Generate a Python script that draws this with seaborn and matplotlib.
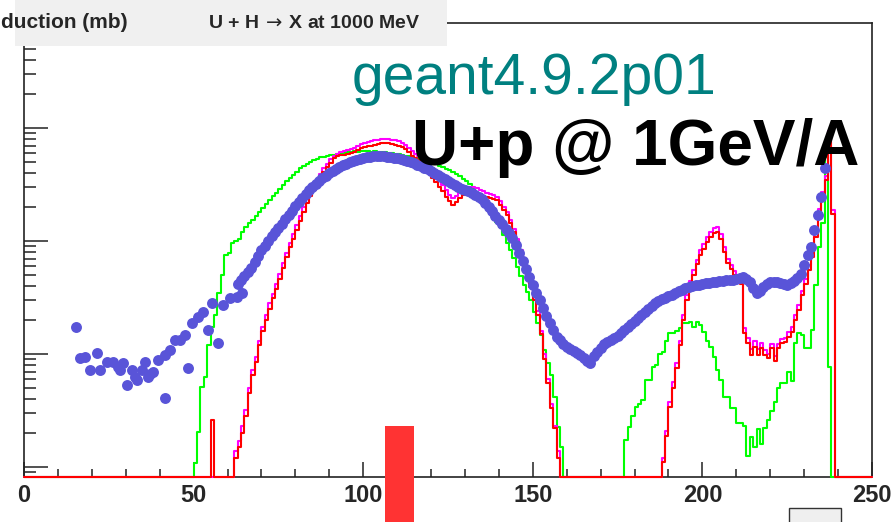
import numpy as np
import matplotlib
matplotlib.use("Agg")
import matplotlib.pyplot as plt
from matplotlib.patches import Rectangle
from matplotlib.ticker import LogLocator, MultipleLocator, NullFormatter
import seaborn as sns

sns.set_style("ticks")
plt.rcParams["font.family"] = ["Liberation Sans", "DejaVu Sans"]
plt.rcParams["mathtext.fontset"] = "dejavusans"

# ---------------------------------------------------------------- data
# Mass-number histograms: unit bins 0..250, values in mb.
N_BINS = 250

GREEN_FISSION_FIRST = 50
green_fission = [
    0.0108, 0.0205, 0.0507, 0.063, 0.120, 0.174, 0.221, 0.344, 0.50, 0.75,
    0.78, 0.97, 1.00, 1.05, 1.21, 1.33, 1.44, 1.53, 1.66, 1.81,
    1.96, 2.13, 2.31, 2.50, 2.66, 2.89, 3.13, 3.40, 3.61, 3.84,
    4.08, 4.43, 4.61, 4.80, 5.00, 5.21, 5.32, 5.54, 5.54, 5.65,
    5.77, 5.77, 5.89, 6.01, 6.01, 6.13, 6.13, 6.26, 6.13, 6.26,
    6.26, 6.26, 6.13, 6.26, 6.13, 6.13, 6.13, 6.01, 6.01, 5.89,
    5.89, 5.77, 5.65, 5.65, 5.54, 5.43, 5.32, 5.21, 5.11, 5.00,
    4.90, 4.80, 4.61, 4.52, 4.34, 4.25, 4.08, 3.92, 3.76, 3.54,
    3.40, 3.19, 2.94, 2.66, 2.40, 2.17, 2.00, 1.81, 1.63, 1.47,
    1.33, 1.13, 0.96, 0.83, 0.707, 0.589, 0.490, 0.408, 0.354, 0.300,
    0.235, 0.188, 0.147, 0.109, 0.0832, 0.0652, 0.0416, 0.0226, 0.0150,
]
GREEN_HEAVY_FIRST = 177
green_heavy = [
    0.0173, 0.0227, 0.028, 0.034, 0.036, 0.039, 0.059, 0.059, 0.077, 0.080,
    0.101, 0.105, 0.130, 0.152, 0.152, 0.160, 0.169, 0.187, 0.190, 0.193,
    0.174, 0.193, 0.180, 0.158, 0.130, 0.116, 0.095, 0.072, 0.059, 0.042,
    0.042, 0.033, 0.033, 0.0244, 0.0244, 0.0230, 0.0125, 0.0185, 0.0150, 0.0215,
    0.0160, 0.0220, 0.026, 0.031, 0.038, 0.050, 0.055, 0.055, 0.070, 0.058,
    0.124, 0.152, 0.147, 0.112, 0.112, 0.163, 0.41, 0.89, 1.43, 5.5,
    0.077,
]

RED_SPIKE_FIRST = 55
red_spike = [0.026]
RED_FISSION_FIRST = 62
red_fission = [
    0.012, 0.015, 0.020, 0.028, 0.045, 0.065, 0.085, 0.12, 0.16, 0.20,
    0.25, 0.31, 0.38, 0.46, 0.58, 0.72, 0.88, 1.05, 1.25, 1.50,
    1.80, 2.15, 2.50, 2.85, 3.20, 3.65, 4.10, 4.50, 4.95, 5.40,
    5.60, 5.75, 5.80, 5.90, 6.00, 6.15, 6.40, 6.60, 6.80, 6.90,
    7.00, 7.10, 7.20, 7.30, 7.35, 7.30, 7.20, 7.10, 6.95, 6.80,
    6.50, 6.10, 5.70, 5.40, 5.20, 4.90, 4.50, 4.00, 3.60, 3.30,
    3.00, 2.75, 2.45, 2.25, 2.08, 2.20, 2.40, 2.55, 2.66, 2.70,
    2.70, 2.66, 2.60, 2.50, 2.45, 2.40, 2.35, 2.30, 2.10, 1.90,
    1.70, 1.45, 1.20, 0.98, 0.78, 0.62, 0.50, 0.39, 0.30, 0.22,
    0.15, 0.09, 0.055, 0.033, 0.022, 0.012,
]
RED_HEAVY_FIRST = 188
red_heavy = [
    0.011, 0.019, 0.034, 0.050, 0.075, 0.12, 0.20, 0.30, 0.40, 0.50,
    0.62, 0.75, 0.85, 0.98, 1.08, 1.17, 1.20, 1.05, 0.80, 0.64,
    0.56, 0.50, 0.45, 0.42, 0.152, 0.124, 0.098, 0.116, 0.098, 0.113,
    0.098, 0.092, 0.112, 0.087, 0.112, 0.124, 0.128, 0.142, 0.158, 0.20,
    0.245, 0.333, 0.42, 0.554, 0.726, 1.09, 1.76, 2.47, 3.47, 9.0,
    1.75,
]

MAGENTA_FISSION_FIRST = 62
magenta_fission = [
    0.014, 0.017, 0.023, 0.032, 0.050, 0.072, 0.095, 0.13, 0.175, 0.22,
    0.28, 0.34, 0.42, 0.51, 0.64, 0.79, 0.96, 1.15, 1.38, 1.65,
    1.98, 2.35, 2.75, 3.10, 3.50, 3.95, 4.40, 4.85, 5.30, 5.70,
    5.95, 6.10, 6.20, 6.35, 6.50, 6.70, 7.00, 7.20, 7.40, 7.55,
    7.70, 7.80, 7.90, 8.00, 8.05, 8.00, 7.90, 7.80, 7.60, 7.40,
    7.10, 6.70, 6.25, 5.90, 5.65, 5.35, 4.95, 4.45, 4.05, 3.70,
    3.40, 3.10, 2.80, 2.55, 2.40, 2.50, 2.70, 2.85, 2.95, 3.00,
    2.98, 2.92, 2.85, 2.75, 2.68, 2.62, 2.55, 2.45, 2.25, 2.02,
    1.80, 1.55, 1.28, 1.05, 0.84, 0.67, 0.54, 0.42, 0.32, 0.24,
    0.16, 0.10, 0.060, 0.036, 0.023, 0.014,
]
MAGENTA_HEAVY_FIRST = 188
magenta_heavy = [
    0.012, 0.021, 0.038, 0.056, 0.083, 0.13, 0.22, 0.33, 0.44, 0.55,
    0.68, 0.83, 0.94, 1.08, 1.20, 1.30, 1.34, 1.15, 0.88, 0.70,
    0.61, 0.54, 0.48, 0.44, 0.170, 0.140, 0.110, 0.130, 0.110, 0.125,
    0.108, 0.100, 0.122, 0.096, 0.122, 0.137, 0.140, 0.156, 0.174, 0.22,
    0.27, 0.36, 0.46, 0.61, 0.80, 1.20, 1.93, 2.70, 3.80, 9.5,
    1.90,
]

# Measured cross sections (mb) versus mass number
blue_low_A = [
    15.3, 16.5, 18.0, 19.5, 21.5, 22.4, 24.5, 26.3, 27.7, 28.3,
    29.2, 30.4, 31.8, 32.7, 33.3, 34.8, 35.7, 36.6, 37.1, 38.0,
    39.5, 41.6, 41.6, 43.0, 44.5, 46.0, 47.5, 48.3, 49.5, 51.3,
    52.8, 54.2, 55.4, 57.2, 58.7, 60.7, 62.8, 64.3,
]
blue_low_xs = [
    0.173, 0.092, 0.094, 0.072, 0.102, 0.072, 0.085, 0.085, 0.077, 0.072,
    0.083, 0.053, 0.072, 0.063, 0.059, 0.072, 0.085, 0.063, 0.067, 0.069,
    0.089, 0.098, 0.041, 0.109, 0.133, 0.133, 0.147, 0.075, 0.188, 0.212,
    0.235, 0.163, 0.283, 0.125, 0.271, 0.313, 0.319, 0.347,
]
BLUE_MAIN_FIRST = 63
blue_main_xs = [
    0.42, 0.45, 0.49, 0.53, 0.577, 0.65, 0.737, 0.83, 0.90, 1.00,
    1.11, 1.20, 1.30, 1.41, 1.57, 1.70, 1.84, 2.04, 2.21, 2.40,
    2.60, 2.83, 3.01, 3.19, 3.40, 3.61, 3.76, 4.00, 4.16, 4.34,
    4.52, 4.71, 4.80, 5.00, 5.11, 5.21, 5.32, 5.43, 5.54, 5.54,
    5.65, 5.65, 5.65, 5.65, 5.54, 5.54, 5.43, 5.43, 5.32, 5.21,
    5.11, 5.00, 4.90, 4.71, 4.61, 4.43, 4.34, 4.16, 4.00, 3.84,
    3.69, 3.54, 3.40, 3.26, 3.13, 3.01, 2.89, 2.83, 2.77, 2.66,
    2.55, 2.45, 2.35, 2.17, 2.00, 1.84, 1.66, 1.53, 1.41, 1.28,
    1.18, 1.06, 0.92, 0.78, 0.665, 0.565, 0.48, 0.408, 0.347, 0.30,
    0.255, 0.217, 0.188, 0.163, 0.141, 0.133, 0.122, 0.115, 0.111, 0.106,
    0.102, 0.098, 0.092, 0.087, 0.083, 0.096, 0.104, 0.113, 0.122, 0.128,
    0.133, 0.138, 0.144, 0.153, 0.163, 0.173, 0.184, 0.196, 0.208, 0.221,
    0.235, 0.250, 0.266, 0.283, 0.294, 0.307, 0.313, 0.326, 0.333, 0.347,
    0.361, 0.368, 0.384, 0.392, 0.400, 0.408, 0.408, 0.416, 0.425, 0.425,
    0.434, 0.434, 0.443, 0.443, 0.452, 0.452, 0.452, 0.461, 0.470, 0.480,
    0.461, 0.434, 0.384, 0.347, 0.361, 0.392, 0.416, 0.434, 0.434, 0.434,
    0.425, 0.416, 0.408, 0.425, 0.443, 0.470, 0.51, 0.613, 0.752, 0.885,
    1.25, 1.70, 2.45, 4.43,
]

x_ticks = [0, 50, 100, 150, 200, 250]
x_tick_labels = ["0", "50", "100", "150", "200", "250"]

Y_MIN, Y_MAX = 8.16e-3, 85.0

GREEN = "#00ff00"
RED = "#ff0000"
MAGENTA = "#ff00ff"
BLUE = "#5954d8"
TEAL = "#008080"


def to_hist(parts):
    h = np.zeros(N_BINS)
    for first, vals in parts:
        h[first:first + len(vals)] = vals
    return h


green = to_hist([(GREEN_FISSION_FIRST, green_fission), (GREEN_HEAVY_FIRST, green_heavy)])
magenta = to_hist([(MAGENTA_FISSION_FIRST, magenta_fission), (MAGENTA_HEAVY_FIRST, magenta_heavy)])
red = to_hist([(RED_SPIKE_FIRST, red_spike), (RED_FISSION_FIRST, red_fission),
               (RED_HEAVY_FIRST, red_heavy)])

blue_A = np.concatenate([blue_low_A, np.arange(len(blue_main_xs)) + BLUE_MAIN_FIRST])
blue_xs = np.concatenate([blue_low_xs, blue_main_xs])

# ---------------------------------------------------------------- figure
W, H = 895, 522
fig = plt.figure(figsize=(W / 100, H / 100), dpi=100)
fig.patch.set_facecolor("white")
ax = fig.add_axes([24 / W, 45 / H, 848 / W, 454 / H])

edges = np.arange(N_BINS + 1)


def draw_hist(h, color):
    y = np.append(h, h[-1])
    # empty bins sit on the frame bottom, as on a log-scale histogram
    y = np.where(y > 0, y, Y_MIN)
    sns.lineplot(x=edges, y=y, drawstyle="steps-post", color=color, linewidth=1.5,
                 estimator=None, sort=False, ax=ax, clip_on=False, zorder=3)


draw_hist(green, GREEN)
draw_hist(magenta, MAGENTA)
draw_hist(red, RED)

sns.scatterplot(x=blue_A, y=blue_xs, color=BLUE, s=62, linewidth=0, ax=ax,
                zorder=4, legend=False)

ax.set_xlim(0, 250)
ax.set_yscale("log")
ax.set_ylim(Y_MIN, Y_MAX)
ax.set_xlabel("")
ax.set_ylabel("")

ax.set_xticks(x_ticks)
ax.set_xticklabels(x_tick_labels, fontsize=17, fontweight="bold")
ax.xaxis.set_minor_locator(MultipleLocator(10))
ax.yaxis.set_major_locator(LogLocator(base=10))
ax.yaxis.set_minor_locator(LogLocator(base=10, subs=np.arange(2, 10)))
ax.yaxis.set_minor_formatter(NullFormatter())

ax.tick_params(axis="y", which="both", labelleft=False, direction="in", width=1.1, color="#222222")
ax.tick_params(axis="y", which="major", length=17)
ax.tick_params(axis="y", which="minor", length=8.6)
ax.tick_params(axis="x", which="both", direction="in", width=1.1, color="#222222", pad=5)
ax.tick_params(axis="x", which="major", length=10.5)
ax.tick_params(axis="x", which="minor", length=5.8)
for sp in ax.spines.values():
    sp.set_visible(True)
    sp.set_linewidth(1.2)
    sp.set_color("#222222")

# title pad
fig.add_artist(Rectangle((15 / W, 1 - 46 / H), 432 / W, 46 / H, transform=fig.transFigure,
                         facecolor="#f0f0f0", edgecolor="none"))
fig.text(1 / W, 1 - 28 / H, "duction (mb)", ha="left", va="baseline",
         fontsize=15, fontweight="bold")
fig.text(208 / W, 1 - 28 / H, r"U + H$\,\rightarrow\,$X at 1000 MeV", ha="left", va="baseline",
         fontsize=14, fontweight="bold")

fig.text(352 / W, 1 - 94 / H, "geant4.9.2p01", ha="left", va="baseline",
         fontsize=41, color=TEAL)
fig.text(412 / W, 1 - 165 / H, "U+p @ 1GeV/A", ha="left", va="baseline",
         fontsize=46, fontweight="bold", color="black")

# slide decorations along the bottom edge
fig.add_artist(Rectangle((385 / W, 0), 29 / W, 96 / H, transform=fig.transFigure,
                         facecolor="#ff3333", edgecolor="none", zorder=5))
fig.add_artist(Rectangle((789 / W, -2 / H), 52 / W, 16 / H, transform=fig.transFigure,
                         facecolor="#efefef", edgecolor="#333333", linewidth=1, zorder=5))

fig.savefig("out.png", dpi=100)
